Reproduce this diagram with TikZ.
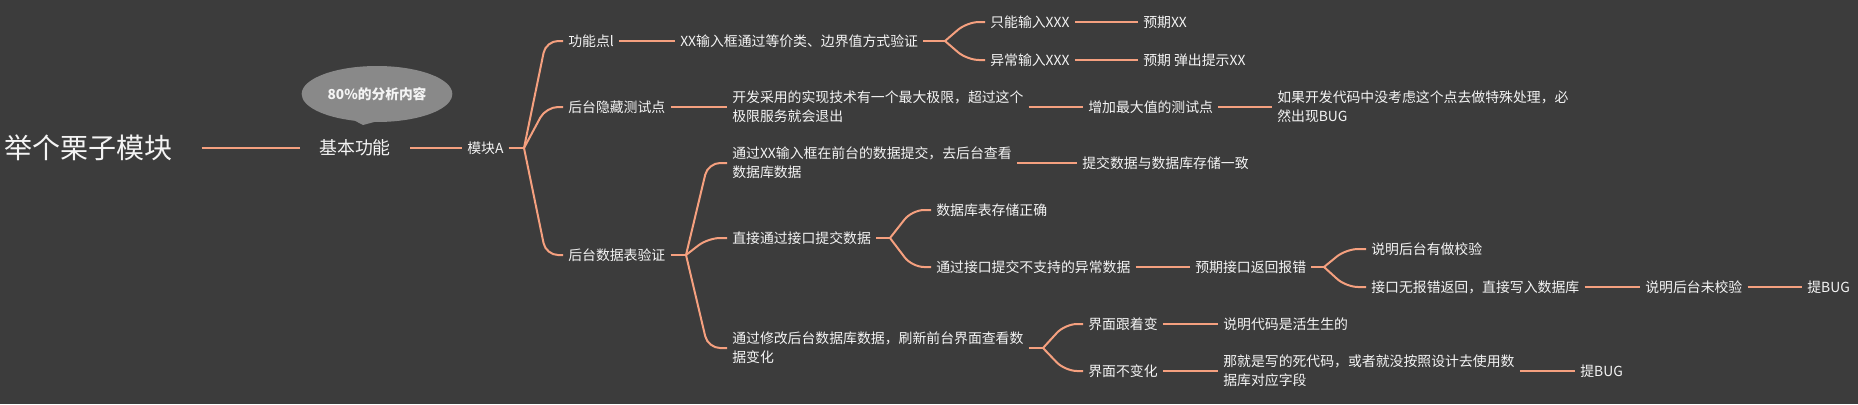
\documentclass[tikz,border=0pt]{standalone}
\usepackage{fontspec}
\setmainfont{Noto Sans CJK SC}
\usetikzlibrary{calc,shapes.callouts}
\definecolor{bgc}{HTML}{3C3C3C}
\definecolor{linec}{HTML}{F5A07F}
\definecolor{txtc}{HTML}{F4F4F4}
\definecolor{notec}{HTML}{898989}
\newcommand\fsmall{\fontsize{10.4pt}{14.25pt}\selectfont}
\tikzset{
  tn/.style={text=txtc, inner xsep=3.75pt, inner ysep=1pt, anchor=west, font=\fsmall, align=left},
  rootn/.style={tn, font=\fontsize{21pt}{24pt}\selectfont},
  basicn/.style={tn, font=\fontsize{13.4pt}{16pt}\selectfont},
  conn/.style={draw=linec, line width=1.9pt},
  branch/.style={draw=linec, line width=1.5pt, rounded corners=9pt,
    to path={let \p1=(\tikztostart), \p2=(\tikztotarget) in -- ({\x1+16.5pt},\y2) -- (\tikztotarget)}},
  notebox/.style={shape=ellipse callout, fill=notec, text=txtc, anchor=center,
    minimum width=113pt, minimum height=42pt, inner sep=1pt,
    font=\fontsize{10.3pt}{12pt}\selectfont\bfseries}
}
\begin{document}
\begin{tikzpicture}[x=0.75pt,y=-0.75pt]
\fill[bgc] (0,0) rectangle (1858,404);
\useasboundingbox (0,0) rectangle (1858,404);

% main chain
\node[rootn] (root) at (-1,148) {举个栗子模块};
\node[basicn] (basic) at (314,148) {基本功能};
\node[tn] (modA) at (462,148) {模块A};
\coordinate (tip) at (363,125);
\node[notebox, callout absolute pointer={(tip)}] (note) at (377,94) {80\%的分析内容};
\coordinate (f0) at (524,148);

% level 1
\node[tn] (n1) at (563,41) {功能点l};
\node[tn] (n2) at (563,107) {后台隐藏测试点};
\node[tn] (n3) at (563,255) {后台数据表验证};

% row 1
\node[tn] (n11) at (675,41) {XX输入框通过等价类、边界值方式验证};
\coordinate (f11) at (945,41);
\node[tn] (n111) at (985,22) {只能输入XXX};
\node[tn] (n1111) at (1138,22) {预期XX};
\node[tn] (n112) at (985,60) {异常输入XXX};
\node[tn] (n1121) at (1138,60) {预期 弹出提示XX};

% row 2
\node[tn] (n21) at (727,107) {开发采用的实现技术有一个最大极限，超过这个\\极限服务就会退出};
\node[tn] (n211) at (1083,107) {增加最大值的测试点};
\node[tn] (n2111) at (1272,107) {如果开发代码中没考虑这个点去做特殊处理，必\\然出现BUG};

% row 3
\coordinate (f3) at (686,255);
\node[tn] (n31) at (727,163) {通过XX输入框在前台的数据提交，去后台查看\\数据库数据};
\node[tn] (n311) at (1077,163) {提交数据与数据库存储一致};
\node[tn] (n32) at (727,238) {直接通过接口提交数据};
\coordinate (f32) at (890,238);
\node[tn] (n321) at (931,210) {数据库表存储正确};
\node[tn] (n322) at (931,267) {通过接口提交不支持的异常数据};
\node[tn] (n3221) at (1190,267) {预期接口返回报错};
\coordinate (f3221) at (1324,267);
\node[tn] (n32211) at (1366,249) {说明后台有做校验};
\node[tn] (n32212) at (1366,287) {接口无报错返回，直接写入数据库};
\node[tn] (n322121) at (1640,287) {说明后台未校验};
\node[tn] (n3221211) at (1802,287) {提BUG};
\node[tn] (n33) at (727,348) {通过修改后台数据库数据，刷新前台界面查看数\\据变化};
\coordinate (f33) at (1043,348);
\node[tn] (n331) at (1083,324) {界面跟着变};
\node[tn] (n3311) at (1218,324) {说明代码是活生生的};
\node[tn] (n332) at (1083,371) {界面不变化};
\node[tn] (n3321) at (1218,371) {那就是写的死代码，或者就没按照设计去使用数\\据库对应字段};
\node[tn] (n33211) at (1575,371) {提BUG};

% straight connectors
\draw[conn, shorten <=18pt, shorten >=10.5pt] (root.east) -- (basic.west);
\draw[conn, shorten <=10.5pt] (basic.east) -- (modA.west);
\draw[conn] (modA.east) -- (f0);
\draw[conn] (n1.east) -- (n11.west);
\draw[conn] (n11.east) -- (f11);
\draw[conn] (n111.east) -- (n1111.west);
\draw[conn] (n112.east) -- (n1121.west);
\draw[conn] (n2.east) -- (n21.west);
\draw[conn] (n21.east) -- (n211.west);
\draw[conn] (n211.east) -- (n2111.west);
\draw[conn] (n3.east) -- (f3);
\draw[conn] (n31.east) -- (n311.west);
\draw[conn] (n32.east) -- (f32);
\draw[conn] (n322.east) -- (n3221.west);
\draw[conn] (n3221.east) -- (f3221);
\draw[conn] (n32212.east) -- (n322121.west);
\draw[conn] (n322121.east) -- (n3221211.west);
\draw[conn] (n33.east) -- (f33);
\draw[conn] (n331.east) -- (n3311.west);
\draw[conn] (n332.east) -- (n3321.west);
\draw[conn] (n3321.east) -- (n33211.west);

% branches
\draw[branch] (f0) to (n1.west);
\draw[branch] (f0) to (n2.west);
\draw[branch] (f0) to (n3.west);
\draw[branch] (f11) to (n111.west);
\draw[branch] (f11) to (n112.west);
\draw[branch] (f3) to (n31.west);
\draw[branch] (f3) to (n32.west);
\draw[branch] (f3) to (n33.west);
\draw[branch] (f32) to (n321.west);
\draw[branch] (f32) to (n322.west);
\draw[branch] (f3221) to (n32211.west);
\draw[branch] (f3221) to (n32212.west);
\draw[branch] (f33) to (n331.west);
\draw[branch] (f33) to (n332.west);
\end{tikzpicture}
\end{document}
